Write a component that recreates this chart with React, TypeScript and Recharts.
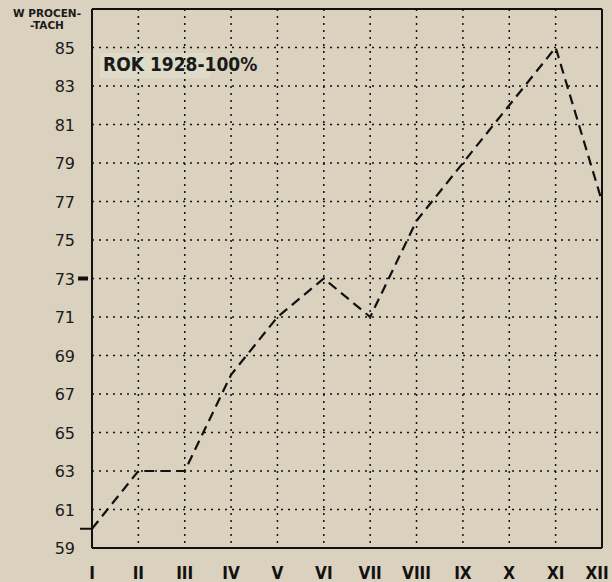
import { LineChart, Line, XAxis, YAxis, CartesianGrid, ReferenceLine } from 'recharts'

const months = ['I', 'II', 'III', 'IV', 'V', 'VI', 'VII', 'VIII', 'IX', 'X', 'XI', 'XII']
const percent = [60, 63, 63, 68, 71, 73, 71, 76, 79, 82, 85, 77]
const yTicks = [59, 61, 63, 65, 67, 69, 71, 73, 75, 77, 79, 81, 83, 85]
const yMin = 59
const yMax = 87
const markedTick = 73

const chartData = months.map((m, i) => ({ month: m, value: percent[i] }))

// first point gets a short stub to the left of the axis, like the original
const StartDot = (props: any) => {
  const { cx, cy, index } = props
  if (index !== 0) return <g key={index} />
  return <line key={index} x1={cx - 12} y1={cy} x2={cx} y2={cy} stroke="#111" strokeWidth={2} />
}

const YTick = (props: any) => {
  const { x, y, payload } = props
  return (
    <g>
      <text x={x} y={y} dy={6} textAnchor="end" fontSize={16} fill="#1a1a1a" fontFamily="DejaVu Sans">
        {payload.value}
      </text>
      {payload.value === markedTick && <rect x={x + 3} y={y - 2} width={10} height={4} fill="#111" />}
    </g>
  )
}

const XTick = (props: any) => {
  const { x, y, payload, index } = props
  const last = index === months.length - 1
  return (
    <text x={last ? x - 5 : x} y={y} dy={13} textAnchor="middle" fontSize={17} fontWeight="bold" fill="#111" fontFamily="DejaVu Sans Condensed">
      {payload.value}
    </text>
  )
}

const border = { stroke: '#111', strokeWidth: 2 }

export default function App() {
  return (
    <div style={{ position: 'absolute', left: 0, top: 0, width: 612, height: 582, background: '#dad2be', overflow: 'hidden' }}>
      <div style={{ position: 'absolute', left: 4, top: 7, width: 86, textAlign: 'center', fontFamily: 'DejaVu Sans', fontWeight: 'bold', fontSize: 10.5, lineHeight: '12px', color: '#1a1a1a' }}>
        W PROCEN-
        <br />
        -TACH
      </div>
      <div style={{ position: 'absolute', left: 100, top: 53, width: 110, height: 25, background: '#dedcc8' }} />
      <LineChart width={612} height={582} data={chartData} margin={{ top: 9, right: 10, bottom: 4, left: 0 }}>
        <CartesianGrid stroke="#111" strokeDasharray="2 5" strokeWidth={1.5} />
        <XAxis
          dataKey="month"
          interval={0}
          tickLine={false}
          axisLine={border}
          height={30}
          tickMargin={12}
          tick={<XTick />}
        />
        <YAxis
          domain={[yMin, yMax]}
          ticks={yTicks}
          interval={0}
          width={92}
          tickLine={false}
          axisLine={border}
          tickMargin={11}
          tick={<YTick />}
        />
        <ReferenceLine y={yMax} stroke="#111" strokeWidth={2} />
        <ReferenceLine x={months[months.length - 1]} stroke="#111" strokeWidth={2} />
        <Line
          type="linear"
          dataKey="value"
          stroke="#111"
          strokeWidth={2.2}
          strokeDasharray="10 6"
          dot={<StartDot />}
          activeDot={false}
          isAnimationActive={false}
        />
      </LineChart>
      <div style={{ position: 'absolute', left: 103, top: 53, fontFamily: 'DejaVu Sans Condensed', fontWeight: 'bold', fontSize: 19, color: '#1a1a1a', whiteSpace: 'nowrap' }}>
        ROK 1928-100%
      </div>
    </div>
  )
}
